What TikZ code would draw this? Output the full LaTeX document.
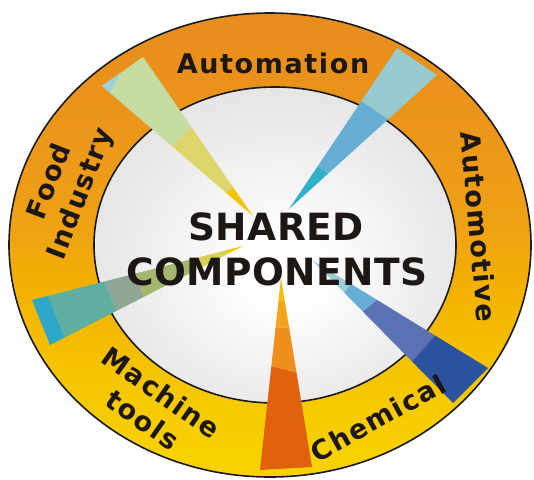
\documentclass[tikz,border=0pt]{standalone}
\usepackage{fontspec}
\newfontfamily\ringfont{DejaVu Sans}[LetterSpace=6]
\newfontfamily\centerfont{DejaVu Sans}[LetterSpace=1]
\usetikzlibrary{calc}
\definecolor{textdark}{HTML}{1C1714}
\definecolor{outline}{HTML}{1A1A1A}
\definecolor{ringA}{HTML}{F8D200}
\definecolor{ringB}{HTML}{F6C600}
\definecolor{ringC}{HTML}{F3B200}
\definecolor{ringD}{HTML}{EFA214}
\definecolor{ringE}{HTML}{EC961A}
\definecolor{ringF}{HTML}{E88E1C}
\definecolor{innerW}{HTML}{FFFFFF}
\definecolor{innerM}{HTML}{F3F3F3}
\definecolor{innerG}{HTML}{E6E6E6}
% beam colours
\definecolor{aY}{HTML}{F5C400}
\definecolor{aYG}{HTML}{DCD66C}
\definecolor{aG}{HTML}{C5DCA3}
\definecolor{aC}{HTML}{A0D0DA}
\definecolor{bT}{HTML}{2FB0C6}
\definecolor{bB}{HTML}{66AED4}
\definecolor{bC}{HTML}{97CACF}
\definecolor{cY}{HTML}{F2C800}
\definecolor{cYO}{HTML}{D9CF55}
\definecolor{cO}{HTML}{A3B76F}
\definecolor{cG}{HTML}{8FA696}
\definecolor{cT}{HTML}{5EAFA0}
\definecolor{cC}{HTML}{2EA8C8}
\definecolor{dY}{HTML}{F6BC00}
\definecolor{dO1}{HTML}{F3A61C}
\definecolor{dO2}{HTML}{EF8E1C}
\definecolor{dR}{HTML}{E0620F}
\definecolor{eC}{HTML}{9ACED6}
\definecolor{eL}{HTML}{66AED6}
\definecolor{eM}{HTML}{5A72B4}
\definecolor{eD}{HTML}{2A529E}
% shadings: the path's bounding box maps onto the central 50bp square (25bp..75bp)
\pgfdeclareverticalshading{ringshade}{100bp}{color(0bp)=(ringA); color(27bp)=(ringA); color(35bp)=(ringB); color(45bp)=(ringC); color(52bp)=(ringD); color(62bp)=(ringE); color(72bp)=(ringF); color(100bp)=(ringF)}
\pgfdeclareradialshading{innershade}{\pgfpoint{1.5bp}{-5bp}}{color(0bp)=(innerW); color(5bp)=(innerW); color(15bp)=(innerM); color(26bp)=(innerG); color(50bp)=(innerG)}
% beam segment: tip, edge1 end, edge2 end, t1 t2 on edge1, t1 t2 on edge2, colour
\newcommand\bseg[8]{\fill[#8] ($(#1)!#4!(#2)$) -- ($(#1)!#5!(#2)$) -- ($(#1)!#7!(#3)$) -- ($(#1)!#6!(#3)$) -- cycle;}
\tikzset{
  ringlabel/.style={font=\ringfont\bfseries\fontsize{27}{33}\selectfont, text=textdark, align=center, inner sep=0pt},
  centertext/.style={font=\centerfont\bfseries\fontsize{37.5}{45}\selectfont, text=textdark, inner sep=0pt},
  rim/.style={draw=outline, line width=1.6pt}
}
\begin{document}
\begin{tikzpicture}[x=1pt,y=-1pt]
\useasboundingbox (0,0) rectangle (534,479);
% ring and inner disc
\shadedraw[shading=ringshade, rim] (270,245) ellipse [x radius=261pt, y radius=232pt];
\shadedraw[shading=innershade, rim] (275,245) ellipse [x radius=181pt, y radius=158pt];
% beam A (upper left)
\coordinate (tA) at (253,216); \coordinate (A1) at (102,86); \coordinate (A2) at (143,57);
\bseg{tA}{A1}{A2}{0}{0.18}{0}{0.18}{aY}
\bseg{tA}{A1}{A2}{0.18}{0.54}{0.18}{0.56}{aYG}
\bseg{tA}{A1}{A2}{0.54}{1}{0.56}{1}{aG}
\fill[aC] (A1) -- (120,73) -- (110,93) -- cycle;
% beam B (upper right)
\coordinate (tB) at (289,209); \coordinate (B1) at (397,48); \coordinate (B2) at (437,75);
\bseg{tB}{B1}{B2}{0}{0.265}{0}{0.265}{bT}
\bseg{tB}{B1}{B2}{0.265}{0.67}{0.265}{0.67}{bB}
\bseg{tB}{B1}{B2}{0.67}{1}{0.67}{1}{bC}
% beam C (left)
\coordinate (tC) at (243,246); \coordinate (C1) at (32,300); \coordinate (C2) at (50,345);
\bseg{tC}{C1}{C2}{0}{0.08}{0}{0.08}{cY}
\bseg{tC}{C1}{C2}{0.08}{0.25}{0.08}{0.25}{cYO}
\bseg{tC}{C1}{C2}{0.25}{0.515}{0.25}{0.515}{cO}
\bseg{tC}{C1}{C2}{0.515}{0.655}{0.515}{0.655}{cG}
\bseg{tC}{C1}{C2}{0.655}{0.925}{0.655}{0.925}{cT}
\bseg{tC}{C1}{C2}{0.925}{1}{0.925}{1}{cC}
% beam D (bottom)
\coordinate (tD) at (281,278); \coordinate (D1) at (260,470); \coordinate (D2) at (312,467);
\bseg{tD}{D1}{D2}{0}{0.12}{0}{0.12}{dY}
\bseg{tD}{D1}{D2}{0.12}{0.26}{0.12}{0.26}{dO1}
\bseg{tD}{D1}{D2}{0.26}{0.46}{0.26}{0.5}{dO2}
\bseg{tD}{D1}{D2}{0.46}{1}{0.5}{1}{dR}
% beam E (lower right)
\coordinate (tE) at (312,260); \coordinate (E1) at (488,368); \coordinate (E2) at (453,403);
\bseg{tE}{E1}{E2}{0}{0.22}{0}{0.23}{eC}
\bseg{tE}{E1}{E2}{0.22}{0.37}{0.23}{0.36}{eL}
\bseg{tE}{E1}{E2}{0.37}{0.70}{0.36}{0.71}{eM}
\bseg{tE}{E1}{E2}{0.70}{1}{0.71}{1}{eD}
% texts
\node[centertext] (shared) at (276,227) {SHARED};
\node[centertext] (components) at (277,272) {COMPONENTS};
\node[ringlabel] (automation) at (273,63) {Automation};
\node[ringlabel, rotate=-85] (automotive) at (479,227) {Automotive};
\node[ringlabel, rotate=69] (food) at (66,188) {Food\\Industry};
\node[ringlabel, rotate=-35] (machine) at (152,406) {Machine\\tools};
\node[ringlabel, rotate=29] (chemical) at (378,418) {Chemical};
\end{tikzpicture}
\end{document}
